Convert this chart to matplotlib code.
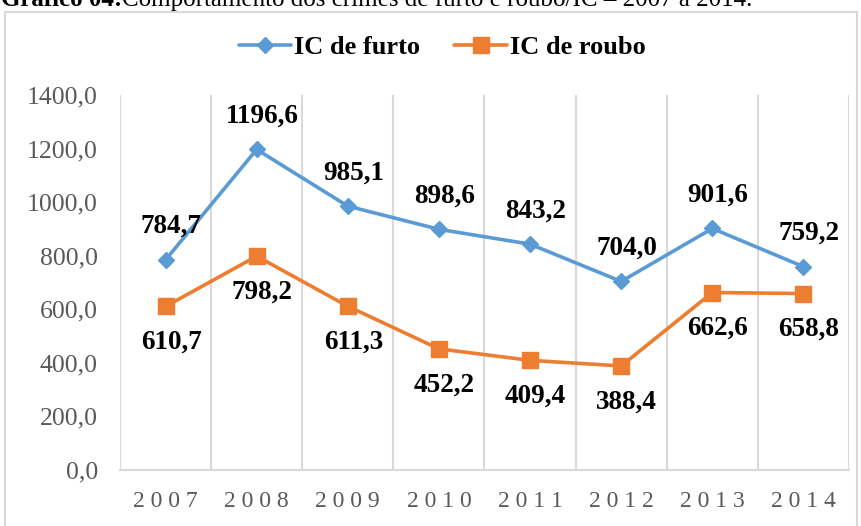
import matplotlib
matplotlib.use("Agg")
import matplotlib.pyplot as plt
from matplotlib.patches import Rectangle

years = ["2007", "2008", "2009", "2010", "2011", "2012", "2013", "2014"]
furto = [784.7, 1196.6, 985.1, 898.6, 843.2, 704.0, 901.6, 759.2]
roubo = [610.7, 798.2, 611.3, 452.2, 409.4, 388.4, 662.6, 658.8]
yticks = [0, 200, 400, 600, 800, 1000, 1200, 1400]

BLUE = "#5B9BD5"
ORANGE = "#ED7D31"
GRID = "#D9D9D9"
TXT = "#595959"
SERIF = "Liberation Serif"

def br(v):
    return f"{v:.1f}".replace(".", ",")

fig = plt.figure(figsize=(8.62, 5.26), dpi=100)
W, H = 862, 526
ax = fig.add_axes([120 / W, 1 - 470 / H, (849 - 120) / W, (470 - 95) / H])

# outer chart border
fig.patches.append(Rectangle((5 / W, -0.05), (857 - 5) / W, 1 - 12 / H + 0.05,
                             transform=fig.transFigure, fill=False,
                             edgecolor=GRID, linewidth=1.5, zorder=0))

x = list(range(len(years)))
ax.plot(x, furto, color=BLUE, lw=2.6, marker="D", ms=8.5, label="IC de furto",
        solid_capstyle="round", zorder=3)
ax.plot(x, roubo, color=ORANGE, lw=2.6, marker="s", ms=11, label="IC de roubo",
        solid_capstyle="round", zorder=3)

for xi, v in zip(x, furto):
    ax.annotate(br(v), (xi, v), xytext=(4, 24), textcoords="offset points",
                ha="center", va="center", fontsize=19.5, fontweight="bold",
                family=SERIF, color="black", zorder=4)
for xi, v in zip(x, roubo):
    ax.annotate(br(v), (xi, v), xytext=(4, -26), textcoords="offset points",
                ha="center", va="center", fontsize=19.5, fontweight="bold",
                family=SERIF, color="black", zorder=4)

ax.set_xlim(-0.5, len(years) - 0.5)
ax.set_ylim(0, 1400)
ax.set_yticks(yticks)
ax.set_yticklabels([br(v) for v in yticks], fontsize=18.5, family=SERIF, color=TXT)
ax.set_xticks(x)
ax.set_xticklabels([" ".join(y) for y in years], fontsize=17, family=SERIF, color=TXT)
ax.tick_params(axis="both", length=0)
ax.tick_params(axis="y", pad=16)
ax.tick_params(axis="x", pad=15)

for b in [i - 0.5 for i in range(len(years) + 1)]:
    ax.axvline(b, color=GRID, lw=1.5, zorder=1)
for s in ["top", "right", "left"]:
    ax.spines[s].set_visible(False)
ax.spines["bottom"].set_color(GRID)
ax.spines["bottom"].set_linewidth(1.5)

fig.legend(loc="center", bbox_to_anchor=(442 / W, 1 - 47 / H), ncol=2,
           frameon=False, prop={"family": SERIF, "weight": "bold", "size": 19},
           handlelength=2.0, handletextpad=0.1, columnspacing=1.3)

# caption at the very top, clipped by the image edge as in the reference
fig.canvas.draw()
r = fig.canvas.get_renderer()
t1 = fig.text(1 / W, 1 - 6 / H, "Gráfico 04:", fontsize=18, fontweight="bold",
              family=SERIF, va="baseline", ha="left")
bb = t1.get_window_extent(renderer=r)
fig.text(bb.x1 / W, 1 - 6 / H,
         "Comportamento dos crimes de furto e roubo/IC – 2007 a 2014.",
         fontsize=18, family=SERIF, va="baseline", ha="left")

fig.savefig("out.png", dpi=100)
